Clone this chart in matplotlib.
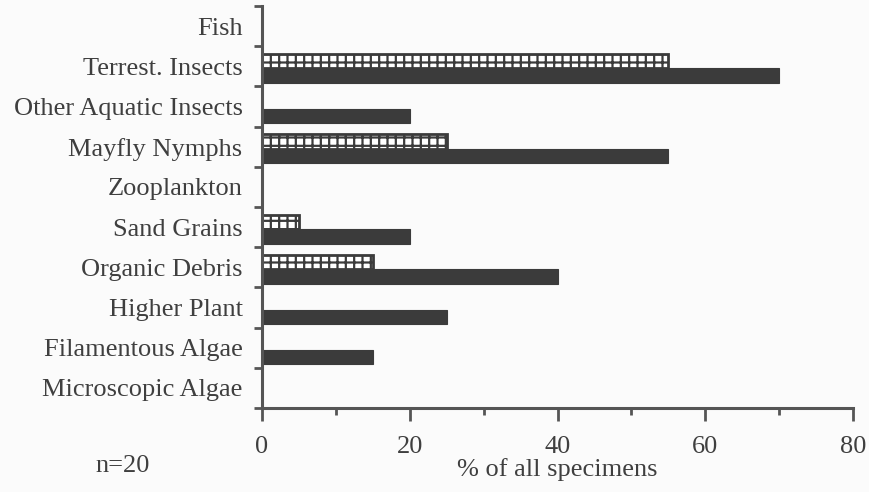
import numpy as np
import matplotlib.pyplot as plt
from matplotlib.ticker import MultipleLocator

categories = ["Microscopic Algae", "Filamentous Algae", "Higher Plant", "Organic Debris",
              "Sand Grains", "Zooplankton", "Mayfly Nymphs", "Other Aquatic Insects",
              "Terrest. Insects", "Fish"]
solid_vals = [0, 15, 25, 40, 20, 0, 55, 20, 70, 0]
hatched_vals = [0, 0, 0, 15, 5, 0, 25, 0, 55, 0]

plt.rcParams['font.family'] = ['Liberation Serif', 'DejaVu Serif']
plt.rcParams['hatch.linewidth'] = 1.6

bg = "#fbfbfb"
dark = "#3b3b3b"
txt = "#3f3f3f"
fs = 19

fig = plt.figure(figsize=(8.69, 4.92), dpi=100, facecolor=bg)
ax = fig.add_axes([262/869, 1-408/492, (853-262)/869, (408-6)/492])
ax.set_facecolor(bg)

y = np.arange(len(categories))
h = 0.36
off = -0.05
ax.barh(y - h/2 + off, solid_vals, height=h, color=dark, edgecolor=dark, linewidth=0.8)
hb = ax.barh(y + h/2 + off, hatched_vals, height=h, color="#ffffff", edgecolor=dark,
             linewidth=2.0, hatch="++")
for b, v in zip(hb, hatched_vals):
    if v == 0:
        b.set_visible(False)

ax.set_xlim(0, 80)
ax.set_ylim(-0.5, len(categories) - 0.5)
ax.xaxis.set_major_locator(MultipleLocator(20))
ax.xaxis.set_minor_locator(MultipleLocator(10))
ax.tick_params(axis='x', which='major', length=9, width=2, color="#555555",
               labelsize=fs, pad=11, labelcolor=txt)
ax.tick_params(axis='x', which='minor', length=5, width=2, color="#555555")

# category names sit between the boundary ticks
ax.set_yticks(y)
ax.set_yticklabels(categories, fontsize=fs, color=txt)
ax.tick_params(axis='y', which='major', length=0, pad=14)
ax.set_yticks(np.arange(-0.5, len(categories)), minor=True)
ax.tick_params(axis='y', which='minor', length=6, width=2, color="#555555")

for s in ['top', 'right']:
    ax.spines[s].set_visible(False)
for s in ['left', 'bottom']:
    ax.spines[s].set_linewidth(2.2)
    ax.spines[s].set_color("#555555")

ax.set_xlabel("% of all specimens", fontsize=fs, color=txt, labelpad=0)
fig.text(95/869, 1-466/492, "n=20", fontsize=fs, color=txt, va='center')

fig.savefig("out.png", dpi=100, facecolor=bg)
